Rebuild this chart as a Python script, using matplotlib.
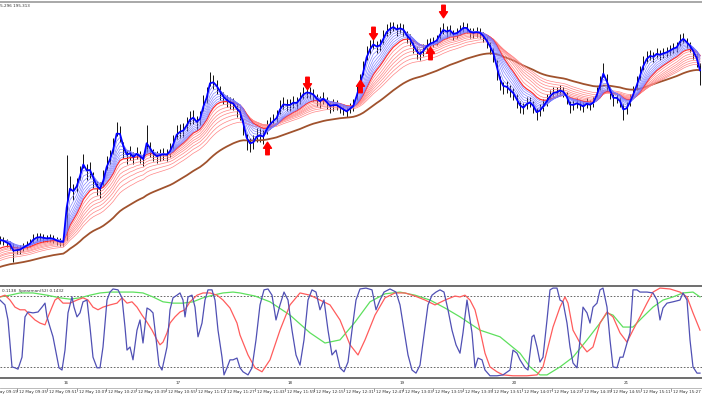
import numpy as np
import pandas as pd
import matplotlib
matplotlib.use('Agg')
import matplotlib.pyplot as plt
import matplotlib.transforms as mtransforms
from matplotlib.path import Path
from matplotlib.lines import Line2D

# price data: points (0.001) above BASE, one entry per bar
BASE = 195.300

high_pts = [64, 63, 61, 59, 57, 54, 55, 57, 59, 61,
            66, 67, 67, 66, 65, 66, 65, 63, 62, 62,
            145, 124, 116, 122, 134, 146, 136, 138, 128, 119,
            118, 130, 144, 150, 162, 178, 174, 158, 150, 154,
            148, 153, 149, 146, 175, 158, 151, 149, 151, 152,
            151, 157, 165, 175, 176, 177, 183, 189, 190, 184,
            189, 205, 213, 228, 225, 220, 214, 208, 205, 203,
            202, 197, 194, 181, 166, 162, 165, 172, 172, 170,
            180, 183, 186, 190, 200, 203, 201, 201, 204, 203,
            208, 213, 214, 213, 211, 206, 204, 208, 203, 199,
            201, 200, 197, 195, 193, 197, 201, 214, 226, 239,
            254, 260, 263, 259, 261, 270, 276, 278, 278, 276,
            277, 276, 269, 266, 259, 253, 250, 256, 261, 262,
            263, 265, 273, 277, 274, 275, 270, 272, 275, 278,
            277, 272, 272, 273, 272, 268, 264, 258, 252, 240,
            224, 218, 219, 215, 212, 206, 199, 197, 203, 203,
            199, 192, 196, 201, 206, 210, 213, 213, 215, 213,
            208, 199, 200, 202, 200, 198, 202, 200, 203, 213,
            224, 237, 226, 213, 206, 207, 203, 196, 198, 206,
            214, 224, 234, 244, 249, 250, 248, 252, 250, 252,
            253, 255, 257, 258, 266, 267, 262, 258, 253, 247, 237]

low_pts = [56, 55, 53, 51, 38, 46, 46, 49, 51, 53,
           57, 59, 59, 58, 58, 58, 57, 55, 54, 54,
           60, 110, 100, 108, 120, 132, 120, 122, 112, 105,
           102, 114, 130, 136, 146, 164, 158, 142, 136, 140,
           136, 141, 137, 134, 148, 143, 139, 137, 139, 140,
           139, 143, 151, 161, 162, 163, 169, 175, 176, 170,
           175, 189, 197, 214, 211, 206, 200, 196, 193, 191,
           190, 183, 180, 165, 150, 148, 151, 158, 158, 156,
           166, 171, 174, 176, 186, 191, 189, 189, 192, 191,
           196, 201, 202, 201, 199, 194, 192, 196, 191, 187,
           189, 190, 187, 185, 183, 187, 189, 200, 212, 225,
           240, 246, 251, 247, 249, 256, 264, 266, 269, 264,
           267, 264, 257, 254, 247, 241, 240, 244, 249, 252,
           253, 255, 261, 266, 262, 265, 260, 262, 265, 268,
           267, 262, 262, 263, 262, 258, 252, 246, 238, 220,
           210, 206, 207, 203, 200, 192, 187, 186, 191, 193,
           187, 180, 184, 189, 194, 200, 203, 203, 205, 203,
           196, 187, 190, 192, 190, 188, 192, 190, 193, 201,
           210, 223, 208, 201, 194, 197, 193, 180, 186, 194,
           202, 210, 220, 230, 237, 240, 238, 242, 240, 242,
           243, 245, 247, 248, 254, 257, 252, 248, 241, 233, 215]

# moving average settings (EMA of median price)
blue_spans = [1.6, 2.8, 4.0, 5.2, 6.4, 7.6, 8.8, 10.0]
red_spans = [11, 13, 15.5, 18, 20.5, 23.5, 27, 31]
red_seed_pts = [50, 48, 47, 45, 43, 42, 40, 38]
brown_span = 50
brown_seed_pts = 32

# signal arrows (bar index, points)
up_bars = [80, 108, 129]
up_pts = [152, 214, 247]
down_bars = [92, 112, 133]
down_pts = [217, 267, 289]

# Spearman oscillator lines (bar position, value)
fast_x = [0.0, 1.5, 2.4, 3.6, 4.5, 5.4, 6.6, 7.5, 8.4, 9.9, 11.4, 12.6, 13.5, 14.1, 15.0,
          15.9, 17.1, 17.7, 18.6, 19.5, 20.4, 21.6, 22.2, 23.1, 24.0, 24.9, 26.1, 27.0,
          27.9, 29.1, 30.0, 30.9, 32.1, 33.0, 33.9, 35.4, 36.6, 37.5, 38.1, 39.0, 39.9,
          41.1, 42.0, 42.9, 44.1, 45.0, 45.9, 47.1, 47.7, 48.6, 50.1, 51.0, 51.9, 53.1,
          54.0, 54.9, 55.5, 56.4, 57.6, 58.5, 59.4, 60.6, 61.5, 62.4, 63.6, 64.5, 65.4,
          66.6, 67.2, 68.1, 69.0, 69.9, 71.1, 72.0, 72.9, 74.4, 75.6, 76.8, 78.0, 79.2,
          80.4, 81.6, 82.8, 84.0, 85.2, 86.4, 87.6, 88.8, 90.0, 91.2, 92.4, 93.6, 94.8,
          96.0, 97.2, 98.4, 99.6, 100.8, 102.0, 103.2, 104.4, 105.6, 106.8, 108.0, 109.8,
          111.6, 112.8, 114.0, 115.2, 117.0, 118.8, 120.0, 121.2, 122.4, 123.6, 124.8,
          126.0, 127.2, 128.4, 129.6, 130.8, 132.0, 133.2, 134.4, 135.6, 136.8, 138.0,
          138.9, 140.1, 140.7, 141.6, 142.5, 143.4, 144.6, 145.5, 147.0, 149.1, 150.9,
          153.0, 153.9, 155.1, 156.0, 157.5, 158.4, 159.6, 160.2, 161.1, 162.0, 162.9,
          164.1, 165.0, 165.9, 167.1, 168.0, 168.9, 170.1, 171.0, 171.9, 173.1, 174.0,
          174.9, 176.1, 177.0, 177.9, 179.1, 180.0, 180.9, 182.1, 183.0, 183.9, 185.1,
          186.0, 186.9, 188.1, 189.0, 189.9, 191.1, 192.0, 194.1, 195.9, 197.1, 198.0,
          198.9, 200.1, 201.9, 204.0, 204.9, 206.1, 207.0, 207.9, 209.1, 210.0]
fast_val = [0.71, 0.60, 0.26, -0.80, -0.82, -0.85, -0.58, 0.33, 0.44, 0.42, 0.44, 0.55, 0.64,
            0.33, 0.10, -0.12, -0.58, -0.82, -0.87, -0.42, 0.42, 0.78, 0.55, 0.33, 0.42,
            0.67, 0.71, 0.10, -0.58, -0.82, -0.82, -0.35, 0.71, 0.89, 0.96, 0.94, 0.76,
            0.10, -0.42, -0.35, -0.64, 0.03, 0.26, -0.26, 0.53, 0.49, 0.42, -0.35, -0.76,
            -0.87, -0.35, 0.49, 0.76, 0.82, 0.87, 0.71, 0.33, 0.78, 0.82, 0.55, -0.12,
            0.19, 0.71, 0.94, 0.94, 0.71, 0.03, -0.58, -0.98, -0.82, -0.64, -0.64, -0.60,
            -0.82, -0.91, -0.98, -0.82, -0.19, 0.60, 0.94, 0.96, 0.82, 0.26, 0.60, 0.89,
            0.71, 0.03, -0.53, -0.76, -0.19, 0.71, 0.94, 0.89, 0.49, 0.71, 0.03, -0.53,
            -0.42, -0.82, -0.91, -0.69, 0.03, 0.71, 0.96, 0.98, 0.94, 0.49, 0.71, 0.89,
            0.96, 0.89, 0.60, 0.03, -0.53, -0.87, -0.94, -0.76, -0.08, 0.60, 0.82, 0.89,
            0.94, 0.89, 0.49, 0.03, -0.30, -0.49, -0.03, 0.71, 0.42, -0.03, -0.82, -0.60,
            -0.64, -0.87, -1.00, -1.00, -0.98, -0.87, -0.42, -0.49, -0.64, -0.82, -0.87,
            -0.12, -0.08, -0.35, -0.69, -0.58, 0.26, 0.94, 0.98, 0.98, 0.71, 0.67, 0.19,
            -0.35, -0.71, -0.82, -0.19, 0.55, 0.42, 0.19, 0.55, 0.64, 0.94, 0.98, 0.55,
            -0.19, -0.80, -0.82, -0.58, -0.58, -0.26, -0.03, 0.94, 0.94, 0.89, 0.89, 0.87,
            0.71, 0.26, 0.53, 0.64, 0.67, 0.71, 0.87, 0.71, -0.19, -0.80, -0.94, -0.94]

mid_x = [0, 1.5, 3.0, 4.5, 6.0, 7.5, 9.0, 10.5, 12.0, 13.5, 14.4, 15.6, 16.5, 17.4, 18.9,
         21.0, 23.1, 24.9, 26.4, 27.9, 29.4, 30.9, 33.0, 35.1, 36.6, 38.1, 39.6, 41.1,
         42.6, 44.1, 45.6, 47.1, 48.0, 48.9, 50.1, 51.0, 52.5, 54.0, 55.5, 57.0, 59.1,
         60.9, 63.0, 65.1, 66.9, 69.0, 71.1, 72.0, 74.4, 76.5, 78.6, 81.0, 84.0, 87.0,
         90.0, 93.0, 96.0, 99.0, 102.0, 105.0, 107.4, 109.5, 112.5, 115.5, 118.5, 121.5,
         124.5, 127.5, 130.5, 133.5, 136.5, 138.0, 139.5, 141.0, 142.5, 144.0, 145.5,
         147.0, 149.1, 150.9, 153.9, 158.1, 161.1, 162.9, 164.4, 165.9, 168.0, 169.5,
         170.4, 171.9, 174.0, 176.1, 177.9, 180.0, 182.1, 183.9, 186.0, 188.1, 189.9,
         192.0, 194.1, 195.9, 198.0, 201.0, 204.0, 206.1, 207.9, 210.0]
mid_val = [0.78, 0.82, 0.71, 0.55, 0.49, 0.49, 0.37, 0.26, 0.19, 0.15, 0.33, 0.55, 0.71,
           0.76, 0.64, 0.64, 0.71, 0.76, 0.71, 0.55, 0.49, 0.55, 0.60, 0.64, 0.76, 0.64,
           0.67, 0.55, 0.37, 0.21, 0.03, -0.19, -0.30, -0.24, -0.03, 0.19, 0.33, 0.44,
           0.49, 0.67, 0.82, 0.87, 0.87, 0.82, 0.71, 0.53, 0.19, -0.08, -0.53, -0.82,
           -0.91, -0.64, 0.03, 0.60, 0.87, 0.82, 0.71, 0.60, 0.26, -0.30, -0.53, -0.19,
           0.37, 0.76, 0.87, 0.87, 0.80, 0.71, 0.60, 0.71, 0.80, 0.78, 0.82, 0.71, 0.49,
           0.03, -0.49, -0.80, -0.91, -0.98, -1.00, -1.00, -0.98, -0.80, -0.35, 0.10,
           0.55, 0.78, 0.64, 0.03, -0.26, -0.46, -0.35, 0.19, 0.44, 0.33, -0.03, -0.24,
           0.03, 0.33, 0.64, 0.89, 0.98, 0.96, 0.89, 0.78, 0.42, 0.03]

slow_x = [0, 3, 6, 9.9, 14.1, 18, 21, 24, 27, 30, 33, 36.9, 39.9, 42.9, 45.9, 48.9, 51.9,
          54.9, 57.9, 60.9, 63.9, 66.9, 69.9, 72, 76.5, 81, 87, 93, 97.5, 102, 106.5, 111,
          115.5, 120, 124.5, 129, 133.5, 138, 144, 150, 156, 159, 162, 164.1, 168, 171.9,
          176.1, 180, 182.1, 183.9, 186.9, 189.9, 192.9, 195.9, 198.9, 201.9, 204.9,
          207.9, 210]
slow_val = [0.78, 0.82, 0.87, 0.87, 0.82, 0.76, 0.73, 0.76, 0.82, 0.87, 0.89, 0.89, 0.89,
            0.87, 0.78, 0.67, 0.64, 0.64, 0.67, 0.76, 0.82, 0.87, 0.89, 0.87, 0.80, 0.67,
            0.37, -0.03, -0.26, -0.19, 0.21, 0.67, 0.85, 0.89, 0.82, 0.71, 0.53, 0.33,
            0.03, -0.12, -0.49, -0.80, -0.98, -0.98, -0.80, -0.58, -0.19, 0.19, 0.42,
            0.37, 0.10, 0.10, 0.33, 0.55, 0.71, 0.78, 0.87, 0.89, 0.78]

time_labels = ['12 May 09:19', '12 May 09:35', '12 May 09:51', '12 May 10:07',
               '12 May 10:23', '12 May 10:39', '12 May 10:55', '12 May 11:11',
               '12 May 11:27', '12 May 11:43', '12 May 11:59', '12 May 12:15',
               '12 May 12:31', '12 May 12:47', '12 May 13:03', '12 May 13:19',
               '12 May 13:35', '12 May 13:51', '12 May 14:07', '12 May 14:23',
               '12 May 14:39', '12 May 14:55', '12 May 15:11', '12 May 15:27']
hour_labels = ['16', '17', '18', '19', '20', '21']


def ema(values, span, seed):
    s = pd.Series(np.r_[seed, values])
    return s.ewm(span=span, adjust=False).mean().to_numpy()[1:]


H = 395.0
XMAX = 210.6
fig = plt.figure(figsize=(7.02, 3.95), dpi=100)
fig.patch.set_facecolor('white')
ax = fig.add_axes([0, 111 / H, 1, 282 / H])
axi = fig.add_axes([0, 17 / H, 1, 92 / H])

for a in (ax, axi):
    a.set_xlim(0, XMAX)
    a.set_xticks([])
    a.set_yticks([])
    for s in a.spines.values():
        s.set_visible(False)
ax.spines['top'].set_visible(True)
ax.spines['top'].set_color('#9a9a9a')
ax.spines['top'].set_linewidth(1.2)
for side in ('top', 'bottom'):
    axi.spines[side].set_visible(True)
    axi.spines[side].set_color('#6e6e6e')
    axi.spines[side].set_linewidth(1.4)

ax.set_ylim(BASE + 0.016, BASE + 0.298)
axi.set_ylim(-1.05, 1.027)

# price bars
bars = np.arange(len(high_pts))
high = BASE + np.array(high_pts) / 1000.0
low = BASE + np.array(low_pts) / 1000.0
ax.vlines(bars, low, high, color='#111111', lw=0.7, zorder=2)
median = (high + low) / 2

# long EMA
ax.plot(bars, ema(median, brown_span, BASE + brown_seed_pts / 1000.0),
        color='#a0522d', lw=1.3, zorder=3)

# red fan (slow), fastest drawn a bit heavier
for span, seed in list(zip(red_spans, red_seed_pts))[::-1]:
    thick = span == red_spans[0]
    ax.plot(bars, ema(median, span, BASE + seed / 1000.0),
            color='#ff3030' if thick else '#ff8585',
            lw=0.9 if thick else 0.5, zorder=4 if thick else 3)

# blue fan (fast)
for span in blue_spans[::-1]:
    thick = span == blue_spans[0]
    ax.plot(bars, ema(median, span, median[0]),
            color='#0000ff' if thick else '#7a7aff',
            lw=1.3 if thick else 0.45, zorder=5 if thick else 4)

# signal arrows
up_verts = [(0, 1), (0.64, 0.04), (0.28, 0.04), (0.28, -1), (-0.28, -1),
            (-0.28, 0.04), (-0.64, 0.04), (0, 1)]
codes = [Path.MOVETO] + [Path.LINETO] * 6 + [Path.CLOSEPOLY]
up_arrow = Path(up_verts, codes)
down_arrow = Path([(x, -y) for x, y in up_verts], codes)
ax.plot(up_bars, BASE + np.array(up_pts) / 1000.0, ls='none', marker=up_arrow,
        ms=9, color='#ff0000', mec='#ff0000', zorder=6)
ax.plot(down_bars, BASE + np.array(down_pts) / 1000.0, ls='none', marker=down_arrow,
        ms=9, color='#ff0000', mec='#ff0000', zorder=6)

fig.text(-5 / 702, 1 - 6 / H, '195.296 195.313', fontsize=3, color='#333333',
         ha='left', va='center')

# oscillator panel
for lvl in (0.8, -0.8):
    axi.axhline(lvl, color='#505050', lw=0.6, ls=(0, (2, 2)))
axi.plot(slow_x, slow_val, color='#5ee05e', lw=0.9)
axi.plot(mid_x, mid_val, color='#ff5c5c', lw=0.9)
axi.plot(fast_x, fast_val, color='#5050b4', lw=0.9)
axi.text(2 / 702, 1 - 5 / 92, '0.1138  Spearman(52) 0.1432', transform=axi.transAxes,
         fontsize=3, color='#333333', ha='left', va='center')

# time axis band
trans = mtransforms.blended_transform_factory(axi.transData, fig.transFigure)
fig.add_artist(Line2D([0, 1], [1 - 387.5 / H, 1 - 387.5 / H], color='#b0b0b0', lw=0.6))
for k, lab in enumerate(hour_labels):
    axi.text(19.0 + 33.6 * k, 1 - 382.5 / H, lab, transform=trans, fontsize=3,
             color='#333333', ha='left', va='center', clip_on=False)
for k, lab in enumerate(time_labels):
    xpos = -3.72 + 8.91 * k
    axi.add_line(Line2D([xpos, xpos], [1 - 387.5 / H, 1 - 390.5 / H], transform=trans,
                        color='#707070', lw=0.5, clip_on=False))
    axi.text(xpos + 0.6, 1 - 392.5 / H, lab, transform=trans, fontsize=3,
             color='#333333', ha='left', va='center', clip_on=False)

fig.savefig('out.png', dpi=100, facecolor='white')
